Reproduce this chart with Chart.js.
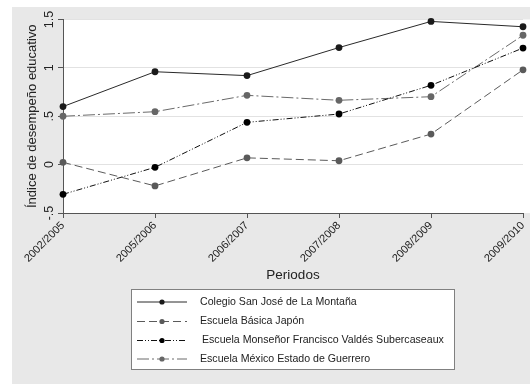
<!DOCTYPE html>
<html><head><meta charset="utf-8">
<script src="https://cdn.jsdelivr.net/npm/chart.js@4"></script>
<style>html,body{margin:0;padding:0;background:#fff;}#wrap{width:530px;height:384px;}</style>
</head><body><div id="wrap"><canvas id="c" width="530" height="384"></canvas></div>
<script>
const periods = ['2002/2005','2005/2006','2006/2007','2007/2008','2008/2009','2009/2010'];
const seriesNames = ['Colegio San José de La Montaña','Escuela Básica Japón','Escuela Monseñor Francisco Valdés Subercaseaux','Escuela México Estado de Guerrero'];
const sanJose  = [0.60, 0.96, 0.92, 1.21, 1.48, 1.425];
const japon    = [0.024, -0.22, 0.07, 0.04, 0.316, 0.98];
const monsenor = [-0.307, -0.028, 0.437, 0.523, 0.82, 1.205];
const mexico   = [0.50, 0.547, 0.716, 0.665, 0.702, 1.337];
const yTicks = [-0.5, 0, 0.5, 1, 1.5];
const yTickLabels = ['-.5', '0', '.5', '1', '1.5'];
const yTitle = 'Índice de desempeño educativo';
const xTitle = 'Periodos';

const FONT = "'Liberation Sans', Arial, Helvetica, sans-serif";
Chart.defaults.font.family = FONT;
Chart.defaults.color = '#222';

const styles = [
  {color:'#2a2a2a', point:'#1a1a1a', dash:[]},
  {color:'#5a5a5a', point:'#5a5a5a', dash:[8,4]},
  {color:'#111111', point:'#000000', dash:[6,2,1,2,1,2]},
  {color:'#6a6a6a', point:'#666666', dash:[12,3,2,3]}
];
const values = [sanJose, japon, monsenor, mexico];

const datasets = values.map((v,i)=>({
  label: seriesNames[i],
  data: v,
  borderColor: styles[i].color,
  backgroundColor: styles[i].point,
  pointBackgroundColor: styles[i].point,
  pointBorderColor: styles[i].point,
  pointBorderWidth: 0,
  pointRadius: 3.4,
  borderWidth: 1,
  borderDash: styles[i].dash,
  tension: 0,
  fill: false,
  clip: false
}));

const bgPlugin = {
  id:'bg',
  beforeDraw(chart){
    const {ctx, chartArea:a} = chart;
    ctx.save();
    ctx.fillStyle = '#fff';
    ctx.fillRect(0,0,530,384);
    ctx.fillStyle = '#e8e8e8';
    ctx.fillRect(12,7,518,377);
    ctx.fillStyle = '#fff';
    ctx.fillRect(a.left, a.top, 530 - a.left, a.bottom - a.top);
    ctx.restore();
  }
};

const yLabelPlugin = {
  id:'ylabels',
  afterDraw(chart){
    const {ctx} = chart;
    const ys = chart.scales.y;
    ctx.save();
    ctx.font = '12.5px ' + FONT;
    ctx.fillStyle = '#222';
    ctx.textAlign = 'center';
    ctx.textBaseline = 'middle';
    yTicks.forEach((v,i)=>{
      const y = ys.getPixelForValue(v);
      ctx.save();
      ctx.translate(49.5, y);
      ctx.rotate(-Math.PI/2);
      ctx.fillText(yTickLabels[i], 0, 0);
      ctx.restore();
    });
    ctx.restore();
  }
};

const legendPlugin = {
  id:'customLegend',
  afterDraw(chart){
    const {ctx} = chart;
    ctx.save();
    ctx.fillStyle = '#fff';
    ctx.fillRect(131.5, 289.5, 323, 80);
    ctx.strokeStyle = '#808080';
    ctx.lineWidth = 1;
    ctx.strokeRect(131.5, 289.5, 323, 80);
    const rows = [302, 321.5, 340.5, 359];
    chart.data.datasets.forEach((ds,i)=>{
      const y = rows[i];
      ctx.beginPath();
      ctx.setLineDash(ds.borderDash);
      ctx.strokeStyle = ds.borderColor;
      ctx.lineWidth = 1;
      ctx.moveTo(137, y);
      ctx.lineTo(187, y);
      ctx.stroke();
      ctx.setLineDash([]);
      ctx.beginPath();
      ctx.fillStyle = ds.pointBackgroundColor;
      ctx.arc(162, y, 2.6, 0, Math.PI*2);
      ctx.fill();
      ctx.font = '10.6px ' + FONT;
      ctx.fillStyle = '#222';
      ctx.textAlign = 'left';
      ctx.textBaseline = 'middle';
      ctx.fillText(ds.label, i === 2 ? 202 : 200, y);
    });
    ctx.restore();
  }
};

new Chart(document.getElementById('c'), {
  type:'line',
  data:{ labels: periods, datasets },
  plugins:[bgPlugin, yLabelPlugin, legendPlugin],
  options:{
    responsive:false,
    animation:false,
    devicePixelRatio:1,
    layout:{ padding:{ top:19.5, right:7, bottom:0, left:0 } },
    plugins:{ legend:{display:false}, tooltip:{enabled:false} },
    scales:{
      x:{
        type:'category',
        offset:false,
        ticks:{ font:{size:11}, color:'#222', minRotation:45, maxRotation:45, autoSkip:false, padding:1 },
        grid:{ drawOnChartArea:false, drawTicks:true, tickLength:5, tickColor:'#555' },
        border:{ display:true, color:'#555', width:1 },
        title:{ display:true, text:xTitle, font:{size:13.5}, color:'#222', padding:{top:0, bottom:101} },
        afterFit(s){ s.height = 171; s.paddingLeft = 0; s.paddingRight = 0; }
      },
      y:{
        min:-0.5, max:1.5,
        ticks:{ stepSize:0.5, display:false },
        grid:{ color:'#e2e2e2', lineWidth:1, drawTicks:true, tickLength:5, tickColor:'#555' },
        border:{ display:true, color:'#555', width:1 },
        title:{ display:true, text:yTitle, font:{size:13}, color:'#222', padding:{top:25, bottom:0} },
        afterFit(s){ s.width = 63; s.paddingTop = 0; s.paddingBottom = 0; }
      }
    }
  }
});
</script>
</body></html>
